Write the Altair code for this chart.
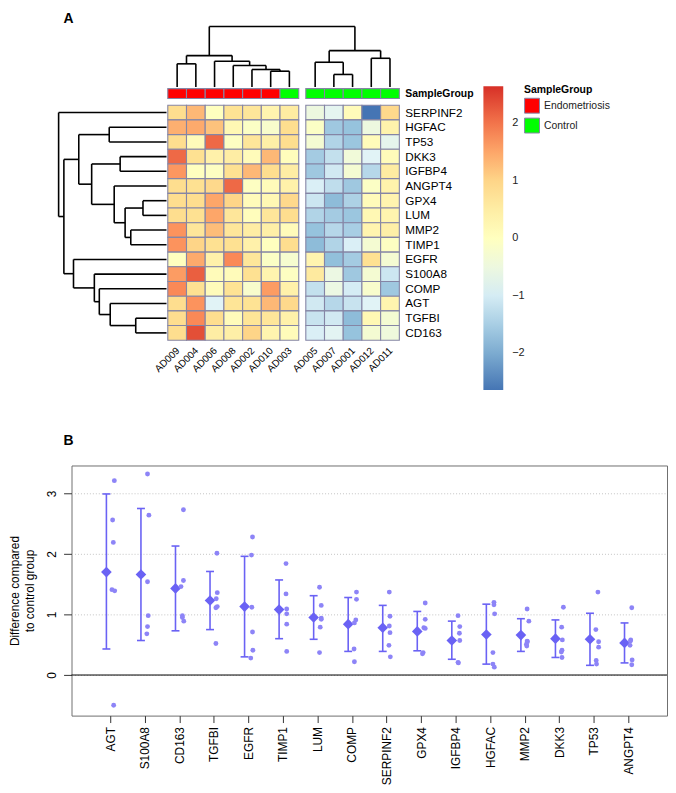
import altair as alt
import pandas as pd

FONT = "Liberation Sans"
BORDER = "#8585a5"

# ---------------- Panel A data ----------------
genes = ["SERPINF2", "HGFAC", "TP53", "DKK3", "IGFBP4", "ANGPT4", "GPX4", "LUM",
         "MMP2", "TIMP1", "EGFR", "S100A8", "COMP", "AGT", "TGFBI", "CD163"]
samples = ["AD009", "AD004", "AD006", "AD008", "AD002", "AD010", "AD003",
           "AD005", "AD007", "AD001", "AD012", "AD011"]
sample_group = ["Endometriosis"] * 6 + ["Control"] * 6
col_cluster = [1] * 7 + [2] * 5

zscores = [
    [0.90, 1.30, 0.00, 0.80, 0.70, 0.30, 0.55, -0.50, -0.75, 0.10, -2.64, 0.95],
    [1.40, 1.45, 1.20, 0.20, -0.10, -0.20, 0.90, -0.10, -1.60, -1.70, -0.50, 0.35],
    [0.90, 0.10, 2.10, -0.05, 0.70, 0.45, 0.90, -0.30, -1.40, -1.65, 0.10, -0.70],
    [2.10, 0.85, 0.40, 0.50, 0.10, 1.30, 0.05, -1.55, -1.20, -0.40, -0.85, 0.10],
    [1.65, 0.00, -0.05, 0.85, 1.30, 0.90, 0.50, -1.60, -1.05, -0.30, -1.35, 0.55],
    [0.90, 0.85, 0.95, 2.10, -0.05, 0.10, 0.40, -0.95, -1.25, -1.60, -0.10, 0.35],
    [0.90, 0.90, 1.50, 1.00, 0.10, 0.20, 0.95, -1.10, -1.80, -1.45, 0.10, 0.30],
    [0.90, 0.85, 1.50, 0.70, 0.05, 0.70, 0.90, -1.40, -1.55, -1.65, 0.20, 0.30],
    [1.70, 0.70, 1.25, 0.70, 0.50, 0.45, 0.10, -1.70, -1.35, -1.50, 0.30, 0.45],
    [1.70, 1.00, 0.85, 0.85, 0.40, 0.00, 0.90, -1.80, -1.40, -0.95, -0.30, -0.05],
    [0.00, 1.45, 0.40, 1.80, 0.70, -0.10, -0.25, 0.30, -1.75, -1.55, 0.85, -0.30],
    [1.60, 2.20, 0.10, 0.10, 0.85, 0.30, -0.05, 0.60, -0.55, -1.60, -0.30, -1.10],
    [1.80, 0.85, 0.10, 0.80, -0.20, 1.60, 0.40, -1.20, -0.55, -1.00, -0.20, -1.60],
    [0.90, 1.70, -0.85, 0.75, 0.80, 1.30, 0.95, -1.05, -1.35, -1.15, -0.85, 0.30],
    [0.90, 1.80, 0.90, 0.10, 0.75, 0.70, 0.40, -1.15, -1.05, -1.80, 0.20, -0.30],
    [0.90, 2.35, 0.50, 0.45, 1.00, 0.30, 0.10, -0.95, -0.80, -1.70, -0.30, -0.45],
]
z_range = [-2.64, 2.64]
palette = ["#4575B4", "#91BFDB", "#E0F3F8", "#FFFFBF", "#FEE090", "#FC8D59", "#D73027"]
colorbar_ticks = [-2, -1, 0, 1, 2]

# dendrograms: (merge height, left, right)
col_tree = (6.10,
            (3.17, (2.34, "AD009", "AD004"),
                   (2.60, "AD006", (2.17, "AD008", (1.77, "AD002", (1.60, "AD010", "AD003"))))),
            (3.67, (2.50, "AD005", (1.27, "AD007", "AD001")),
                   (2.90, "AD012", "AD011")))
row_tree = (10.87, "SERPINF2",
            (10.34,
             (8.84, (5.77, "HGFAC", "TP53"),
                    (7.54, (4.67, "DKK3", "IGFBP4"),
                           (5.27, "ANGPT4", (4.17, (2.37, "GPX4", "LUM"), (3.60, "MMP2", "TIMP1"))))),
             (9.37, "EGFR", (7.27, "S100A8", (6.77, "COMP", (5.67, "AGT", (3.10, "TGFBI", "CD163")))))))

# ---------------- Panel B data ----------------
b_genes = ["AGT", "S100A8", "CD163", "TGFBI", "EGFR", "TIMP1", "LUM", "COMP",
           "SERPINF2", "GPX4", "IGFBP4", "HGFAC", "MMP2", "DKK3", "TP53", "ANGPT4"]
b_mean = [1.70, 1.66, 1.43, 1.23, 1.13, 1.08, 0.95, 0.84, 0.78, 0.72, 0.57, 0.67, 0.66, 0.60, 0.59, 0.53]
b_lo = [0.43, 0.57, 0.73, 0.75, 0.30, 0.60, 0.59, 0.39, 0.39, 0.40, 0.26, 0.18, 0.39, 0.29, 0.16, 0.20]
b_hi = [2.99, 2.75, 2.13, 1.71, 1.96, 1.57, 1.31, 1.28, 1.15, 1.05, 0.89, 1.17, 0.93, 0.91, 1.02, 0.86]
b_points = [
    [3.21, 2.56, 2.19, 1.41, 1.39, -0.50],
    [3.32, 2.64, 1.54, 0.98, 0.80, 0.68],
    [2.73, 1.56, 1.46, 0.98, 0.95, 0.89],
    [2.01, 1.36, 1.26, 1.13, 1.11, 0.52],
    [2.28, 1.98, 1.12, 0.71, 0.41, 0.28],
    [1.84, 1.34, 1.09, 1.01, 0.84, 0.39],
    [1.45, 1.15, 0.94, 0.92, 0.79, 0.37],
    [1.37, 1.25, 0.91, 0.86, 0.43, 0.22],
    [1.37, 0.97, 0.81, 0.70, 0.49, 0.30],
    [1.19, 0.92, 0.78, 0.77, 0.37, 0.35],
    [0.98, 0.80, 0.69, 0.57, 0.21, 0.20],
    [1.20, 1.16, 1.01, 0.37, 0.18, 0.13],
    [1.09, 0.89, 0.56, 0.51, 0.48, 0.55],
    [1.12, 0.79, 0.58, 0.41, 0.38, 0.29],
    [1.37, 0.75, 0.55, 0.46, 0.24, 0.18],
    [1.11, 0.58, 0.49, 0.56, 0.25, 0.17],
]
b_jitter = [
    [0.12, 0.07, 0.09, 0.05, 0.13, 0.10],
    [0.08, 0.12, 0.08, 0.10, 0.08, 0.06],
    [0.12, 0.12, 0.05, 0.09, 0.09, 0.13],
    [0.09, 0.10, 0.07, 0.10, 0.06, 0.06],
    [0.12, 0.09, 0.10, 0.12, 0.13, 0.07],
    [0.09, 0.09, 0.11, 0.11, 0.11, 0.11],
    [0.06, 0.11, 0.11, 0.11, 0.08, 0.06],
    [0.13, 0.13, 0.11, 0.07, 0.06, 0.07],
    [0.08, 0.10, 0.08, 0.10, 0.07, 0.11],
    [0.12, 0.12, 0.08, 0.12, 0.06, 0.04],
    [0.07, 0.12, 0.11, 0.12, 0.07, 0.08],
    [0.11, 0.11, 0.13, 0.08, 0.08, 0.12],
    [0.07, 0.12, 0.07, 0.05, 0.06, 0.08],
    [0.12, 0.07, 0.09, 0.08, 0.06, 0.08],
    [0.12, 0.06, 0.14, 0.14, 0.07, 0.08],
    [0.10, 0.07, 0.05, 0.06, 0.11, 0.10],
]

# ---------------- layout / style constants ----------------
GAP = 0.378          # gap between the two column clusters (cell units)
ERR_SHIFT = -0.11    # error bar / mean marker shifted left of tick
C_ERR = "#6a62f4"
C_PT = "#8d84f7"

# ---------------- build tables ----------------
col_x0 = []
for i, cl in enumerate(col_cluster):
    col_x0.append(i + (GAP if cl == 2 else 0.0))
span = len(samples) + GAP

heat_rows = []
for r, g in enumerate(genes):
    for c, s in enumerate(samples):
        heat_rows.append(dict(gene=g, sample=s, x0=col_x0[c], x1=col_x0[c] + 1,
                              r0=r, r1=r + 1, z=zscores[r][c]))
heat_df = pd.DataFrame(heat_rows)

ann_df = pd.DataFrame(dict(sample=samples, group=sample_group, track="SampleGroup",
                           x0=col_x0, x1=[v + 1 for v in col_x0]))
rowlab_df = pd.DataFrame(dict(gene=genes, rc=[i + 0.5 for i in range(len(genes))], xr=span))
grplab_df = pd.DataFrame(dict(label=["SampleGroup"], track=["SampleGroup"], xr=[span]))
collab_df = pd.DataFrame(dict(sample=samples, xc=[v + 0.5 for v in col_x0], rb=len(genes)))


def dendro(tree, leafpos, segs):
    if isinstance(tree, str):
        return leafpos[tree], 0.0
    h, a, b = tree
    pa, ha = dendro(a, leafpos, segs)
    pb, hb = dendro(b, leafpos, segs)
    segs.append(dict(p1=pa, p2=pa, h1=ha, h2=h))
    segs.append(dict(p1=pb, p2=pb, h1=hb, h2=h))
    segs.append(dict(p1=pa, p2=pb, h1=h, h2=h))
    return (pa + pb) / 2, h


tsegs = []
dendro(col_tree, {s: col_x0[i] + 0.5 for i, s in enumerate(samples)}, tsegs)
tdf = pd.DataFrame(tsegs)
lsegs = []
dendro(row_tree, {g: i + 0.5 for i, g in enumerate(genes)}, lsegs)
ldf = pd.DataFrame(lsegs)

# ---------------- Panel A chart ----------------
XC = alt.Scale(domain=[0, span], range=[97, 330.3], nice=False, zero=False)
YR = alt.Scale(domain=[0, len(genes)], range=[80, 316.8], nice=False, zero=False)
YT = alt.Scale(domain=["SampleGroup"], range=[63.3, 73.3], paddingInner=0, paddingOuter=0)

heat = alt.Chart(heat_df).mark_rect(stroke=BORDER, strokeWidth=1.1).encode(
    x=alt.X("x0:Q", scale=XC, axis=None), x2="x1:Q",
    y=alt.Y("r0:Q", scale=YR, axis=None), y2="r1:Q",
    color=alt.Color("z:Q",
                    scale=alt.Scale(domain=z_range, range=palette, interpolate="rgb"),
                    legend=alt.Legend(orient="none", legendX=415, legendY=61, direction="vertical",
                                      gradientLength=306, gradientThickness=20, title=None,
                                      values=colorbar_ticks, labelFontSize=11, labelOffset=9,
                                      gradientStrokeWidth=0, labelColor="#222")),
)
annot = alt.Chart(ann_df).mark_rect(stroke=BORDER, strokeWidth=1.1).encode(
    x=alt.X("x0:Q", scale=XC, axis=None), x2="x1:Q",
    y=alt.Y("track:N", scale=YT, axis=None),
    color=alt.Color("group:N",
                    scale=alt.Scale(domain=["Endometriosis", "Control"], range=["#FF0000", "#00FF00"]),
                    legend=alt.Legend(orient="none", legendX=456, legendY=60, title="SampleGroup",
                                      titleFontSize=10.5, titleFontWeight="bold", titleColor="black",
                                      labelFontSize=10.5, labelColor="#222", symbolType="square",
                                      symbolSize=225, symbolStrokeColor=BORDER, symbolStrokeWidth=1,
                                      symbolOpacity=1, rowPadding=0, labelOffset=4, titlePadding=2)),
)
rowlab = alt.Chart(rowlab_df).mark_text(align="left", baseline="middle", dx=6, fontSize=11.8,
                                        color="black").encode(
    x=alt.X("xr:Q", scale=XC, axis=None), y=alt.Y("rc:Q", scale=YR, axis=None), text="gene:N")
grplab = alt.Chart(grplab_df).mark_text(align="left", baseline="middle", dx=6, fontSize=10.5,
                                        fontWeight="bold", color="black").encode(
    x=alt.X("xr:Q", scale=XC, axis=None), y=alt.Y("track:N", scale=YT, axis=None), text="label:N")
collab = alt.Chart(collab_df).mark_text(align="right", baseline="middle", angle=315, dx=-5.7, dy=7.1,
                                        fontSize=10, color="black").encode(
    x=alt.X("xc:Q", scale=XC, axis=None), y=alt.Y("rb:Q", scale=YR, axis=None), text="sample:N")
tdend = alt.Chart(tdf).mark_rule(color="black", strokeWidth=1.6).encode(
    x=alt.X("p1:Q", scale=XC, axis=None), x2="p2:Q",
    y=alt.Y("h1:Q", scale=alt.Scale(domain=[0, col_tree[0]], range=[61.7, 0.7], nice=False, zero=False),
            axis=None), y2="h2:Q")
ldend = alt.Chart(ldf).mark_rule(color="black", strokeWidth=1.6).encode(
    x=alt.X("h1:Q", scale=alt.Scale(domain=[0, row_tree[0]], range=[95.7, -13], nice=False, zero=False),
            axis=None), x2="h2:Q",
    y=alt.Y("p1:Q", scale=YR, axis=None), y2="p2:Q")

top = alt.layer(heat, annot, rowlab, grplab, collab, tdend, ldend).resolve_scale(
    x="independent", y="independent", color="independent"
).resolve_legend(color="independent").properties(
    width=600, height=375,
    view=alt.ViewBackground(stroke="transparent"),
    title=alt.TitleParams("A", anchor="start", frame="group", dx=-8, offset=0, fontSize=14,
                          fontWeight="bold", color="black"),
)

# ---------------- Panel B chart ----------------
b_rows = []
p_rows = []
for i, g in enumerate(b_genes):
    b_rows.append(dict(gene=g, xe=i + ERR_SHIFT, mean=b_mean[i], lo=b_lo[i], hi=b_hi[i]))
    for v, j in zip(b_points[i], b_jitter[i]):
        p_rows.append(dict(gene=g, xp=i + j, val=v))
bdf = pd.DataFrame(b_rows)
pdf = pd.DataFrame(p_rows)

bx = alt.Scale(domain=[-1.12, len(b_genes) - 1 + 1.12], nice=False, zero=False)
by = alt.Scale(domain=[-0.67, 3.46], nice=False, zero=False)
label_expr = "[" + ",".join("'" + g + "'" for g in b_genes) + "][datum.value]"
xaxis = alt.Axis(values=list(range(len(b_genes))), labelExpr=label_expr, labelAngle=270,
                 labelAlign="right", labelBaseline="middle", tickSize=7, labelPadding=4,
                 domain=False, grid=False, title=None, labelFontSize=12, labelColor="black",
                 tickColor="#333")
yaxis = alt.Axis(values=[0, 1, 2, 3], labelAngle=270, labelAlign="center", labelBaseline="bottom",
                 tickSize=8, labelPadding=5, domain=False, grid=True, gridDash=[1, 2],
                 gridColor="#c4c4c4", title=["Difference compared", "to control group"],
                 titleFontSize=12, titleFontWeight="normal", titleColor="black", titlePadding=9,
                 titleLineHeight=15, labelFontSize=12, labelColor="black", tickColor="#333")


def X(f):
    return alt.X(f, type="quantitative", scale=bx, axis=xaxis)


def Y(f):
    return alt.Y(f, type="quantitative", scale=by, axis=yaxis)


zero = alt.Chart(pd.DataFrame({"y": [0]})).mark_rule(color="black", strokeWidth=1).encode(y=Y("y"))
err = alt.Chart(bdf).mark_rule(color=C_ERR, strokeWidth=1.6).encode(x=X("xe"), y=Y("lo"), y2="hi")
cap_lo = alt.Chart(bdf).mark_tick(orient="horizontal", size=8, thickness=1.6, color=C_ERR,
                                  opacity=1).encode(x=X("xe"), y=Y("lo"))
cap_hi = alt.Chart(bdf).mark_tick(orient="horizontal", size=8, thickness=1.6, color=C_ERR,
                                  opacity=1).encode(x=X("xe"), y=Y("hi"))
diam = alt.Chart(bdf).mark_point(shape="diamond", filled=True, size=115, color=C_ERR,
                                 opacity=1).encode(x=X("xe"), y=Y("mean"))
pts = alt.Chart(pdf).mark_circle(size=24, color=C_PT, opacity=1).encode(x=X("xp"), y=Y("val"))

bottom = alt.layer(zero, err, cap_lo, cap_hi, diam, pts).properties(
    width=600, height=252,
    view=alt.ViewBackground(stroke="#6f6f6f", strokeWidth=1),
    title=alt.TitleParams("B", anchor="start", frame="group", dx=-8, offset=18, fontSize=14,
                          fontWeight="bold", color="black"),
)

chart = alt.vconcat(top, bottom, spacing=68, bounds="flush").properties(padding=0).configure(
    font=FONT
)

chart.save("out.html", embed_options={"renderer": "svg", "actions": False})
